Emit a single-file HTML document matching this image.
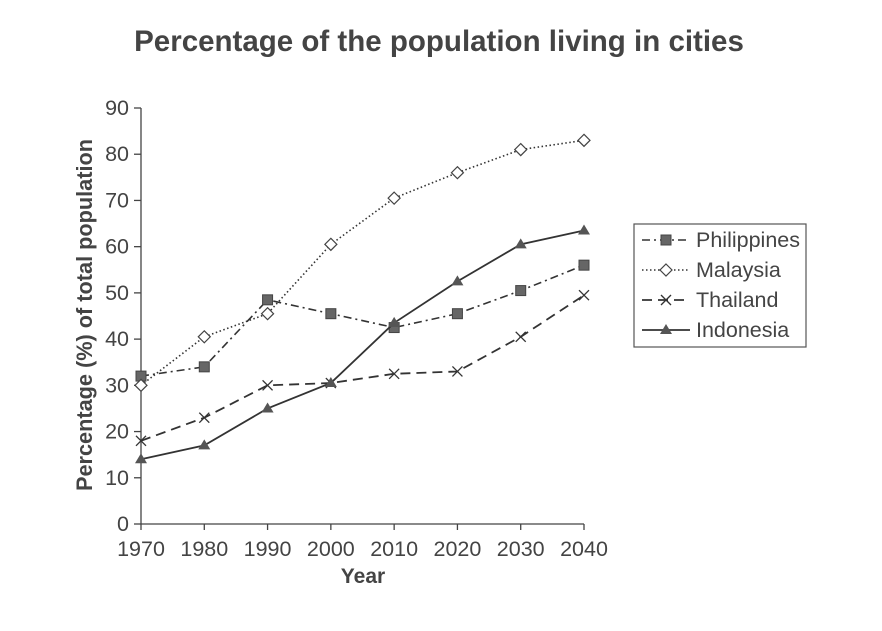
<!DOCTYPE html>
<html><head><meta charset="utf-8"><style>
body{margin:0;background:#fff;}
svg text{font-family:"Liberation Sans",Arial,sans-serif;}
</style></head><body>
<svg id="chart" width="882" height="626" xmlns="http://www.w3.org/2000/svg">
<text x="439" y="51" text-anchor="middle" font-size="29.5" font-weight="bold" fill="#444">Percentage of the population living in cities</text>
<g id="axes"></g>
<g id="series"></g>
<g id="legend"></g>
</svg>
<script>
const years = [1970,1980,1990,2000,2010,2020,2030,2040];
const yTicks = [0,10,20,30,40,50,60,70,80,90];
const seriesNames = ["Philippines","Malaysia","Thailand","Indonesia"];
const philippines = [32,34,48.5,45.5,42.5,45.5,50.5,56];
const malaysia = [30,40.5,45.5,60.5,70.5,76,81,83];
const thailand = [18,23,30,30.5,32.5,33,40.5,49.5];
const indonesia = [14,17,25,30.5,43.5,52.5,60.5,63.5];

const NS="http://www.w3.org/2000/svg";
const X0=141,X1=584,Y0=524,Y1=108;
const xs=y=>X0+(y-1970)/70*(X1-X0);
const ys=v=>Y0-v/90*(Y0-Y1);
function mk(t,a,p){const e=document.createElementNS(NS,t);for(const k in a)e.setAttribute(k,a[k]);p.appendChild(e);return e;}
const axes=document.getElementById('axes');
const yAxis=mk('line',{x1:X0,y1:Y1,x2:X0,y2:Y0,stroke:'#444','stroke-width':1.3},axes);


const xAxis=mk('line',{x1:X0,y1:Y0,x2:X1,y2:Y0,stroke:'#444','stroke-width':1.3},axes);


yTicks.forEach(v=>{
  mk('line',{x1:X0-7,y1:ys(v),x2:X0,y2:ys(v),stroke:'#444','stroke-width':1.3},axes);
  const t=mk('text',{x:X0-12,y:ys(v)+7,'text-anchor':'end','font-size':21.5,fill:'#444'},axes);
  t.textContent=v;
  
  
});
years.forEach(y=>{
  mk('line',{x1:xs(y),y1:Y0,x2:xs(y),y2:Y0+6,stroke:'#444','stroke-width':1.3},axes);
  const t=mk('text',{x:xs(y),y:Y0+32,'text-anchor':'middle','font-size':21.5,fill:'#444'},axes);
  t.textContent=y;
  
  
});
const xt=mk('text',{x:363,y:583,'text-anchor':'middle','font-size':21,'font-weight':'bold',fill:'#444'},axes);
xt.textContent='Year';


const yt=mk('text',{x:0,y:0,'text-anchor':'middle','font-size':22,'font-weight':'bold',fill:'#444',textLength:352,lengthAdjust:'spacingAndGlyphs',transform:'translate(92,315) rotate(-90)'},axes);
yt.textContent='Percentage (%) of total population';



const styles=[
 {d:'8,4,2,4',w:1.6,m:'square'},
 {d:'1.5,2.5',w:1.6,m:'diamond'},
 {d:'10,6',w:1.8,m:'cross'},
 {d:'',w:1.8,m:'tri'}];
const data=[philippines,malaysia,thailand,indonesia];
function marker(type,x,y,p){
  if(type==='square')return mk('rect',{x:x-5,y:y-5,width:10,height:10,fill:'#666',stroke:'#444'},p);
  if(type==='diamond')return mk('polygon',{points:`${x},${y-6} ${x+6},${y} ${x},${y+6} ${x-6},${y}`,fill:'#fff',stroke:'#444','stroke-width':1.2},p);
  if(type==='cross'){const g=mk('g',{},p);mk('line',{x1:x-5,y1:y-5,x2:x+5,y2:y+5,stroke:'#333','stroke-width':1.3},g);mk('line',{x1:x-5,y1:y+5,x2:x+5,y2:y-5,stroke:'#333','stroke-width':1.3},g);return g;}
  return mk('polygon',{points:`${x},${y-6} ${x+6},${y+4} ${x-6},${y+4}`,fill:'#555'},p);
}
const sg=document.getElementById('series');
data.forEach((arr,i)=>{
  const pts=arr.map((v,j)=>xs(years[j])+','+ys(v)).join(' ');
  const pl=mk('polyline',{points:pts,fill:'none',stroke:'#333','stroke-width':styles[i].w,'stroke-dasharray':styles[i].d},sg);
  
  
  arr.forEach((v,j)=>{
    const m=marker(styles[i].m,xs(years[j]),ys(v),sg);
    
    
  });
});
const lg=document.getElementById('legend');
const box=mk('rect',{x:634,y:224,width:172,height:123,fill:'#fff',stroke:'#555','stroke-width':1.2},lg);


seriesNames.forEach((n,i)=>{
  const y=240+i*30;
  mk('line',{x1:642,y1:y,x2:690,y2:y,stroke:'#333','stroke-width':styles[i].w,'stroke-dasharray':styles[i].d},lg);
  marker(styles[i].m,666,y,lg);
  const t=mk('text',{x:696,y:y+7,'font-size':21.5,fill:'#444'},lg);
  t.textContent=n;
  
  
});
</script>
</body></html>
